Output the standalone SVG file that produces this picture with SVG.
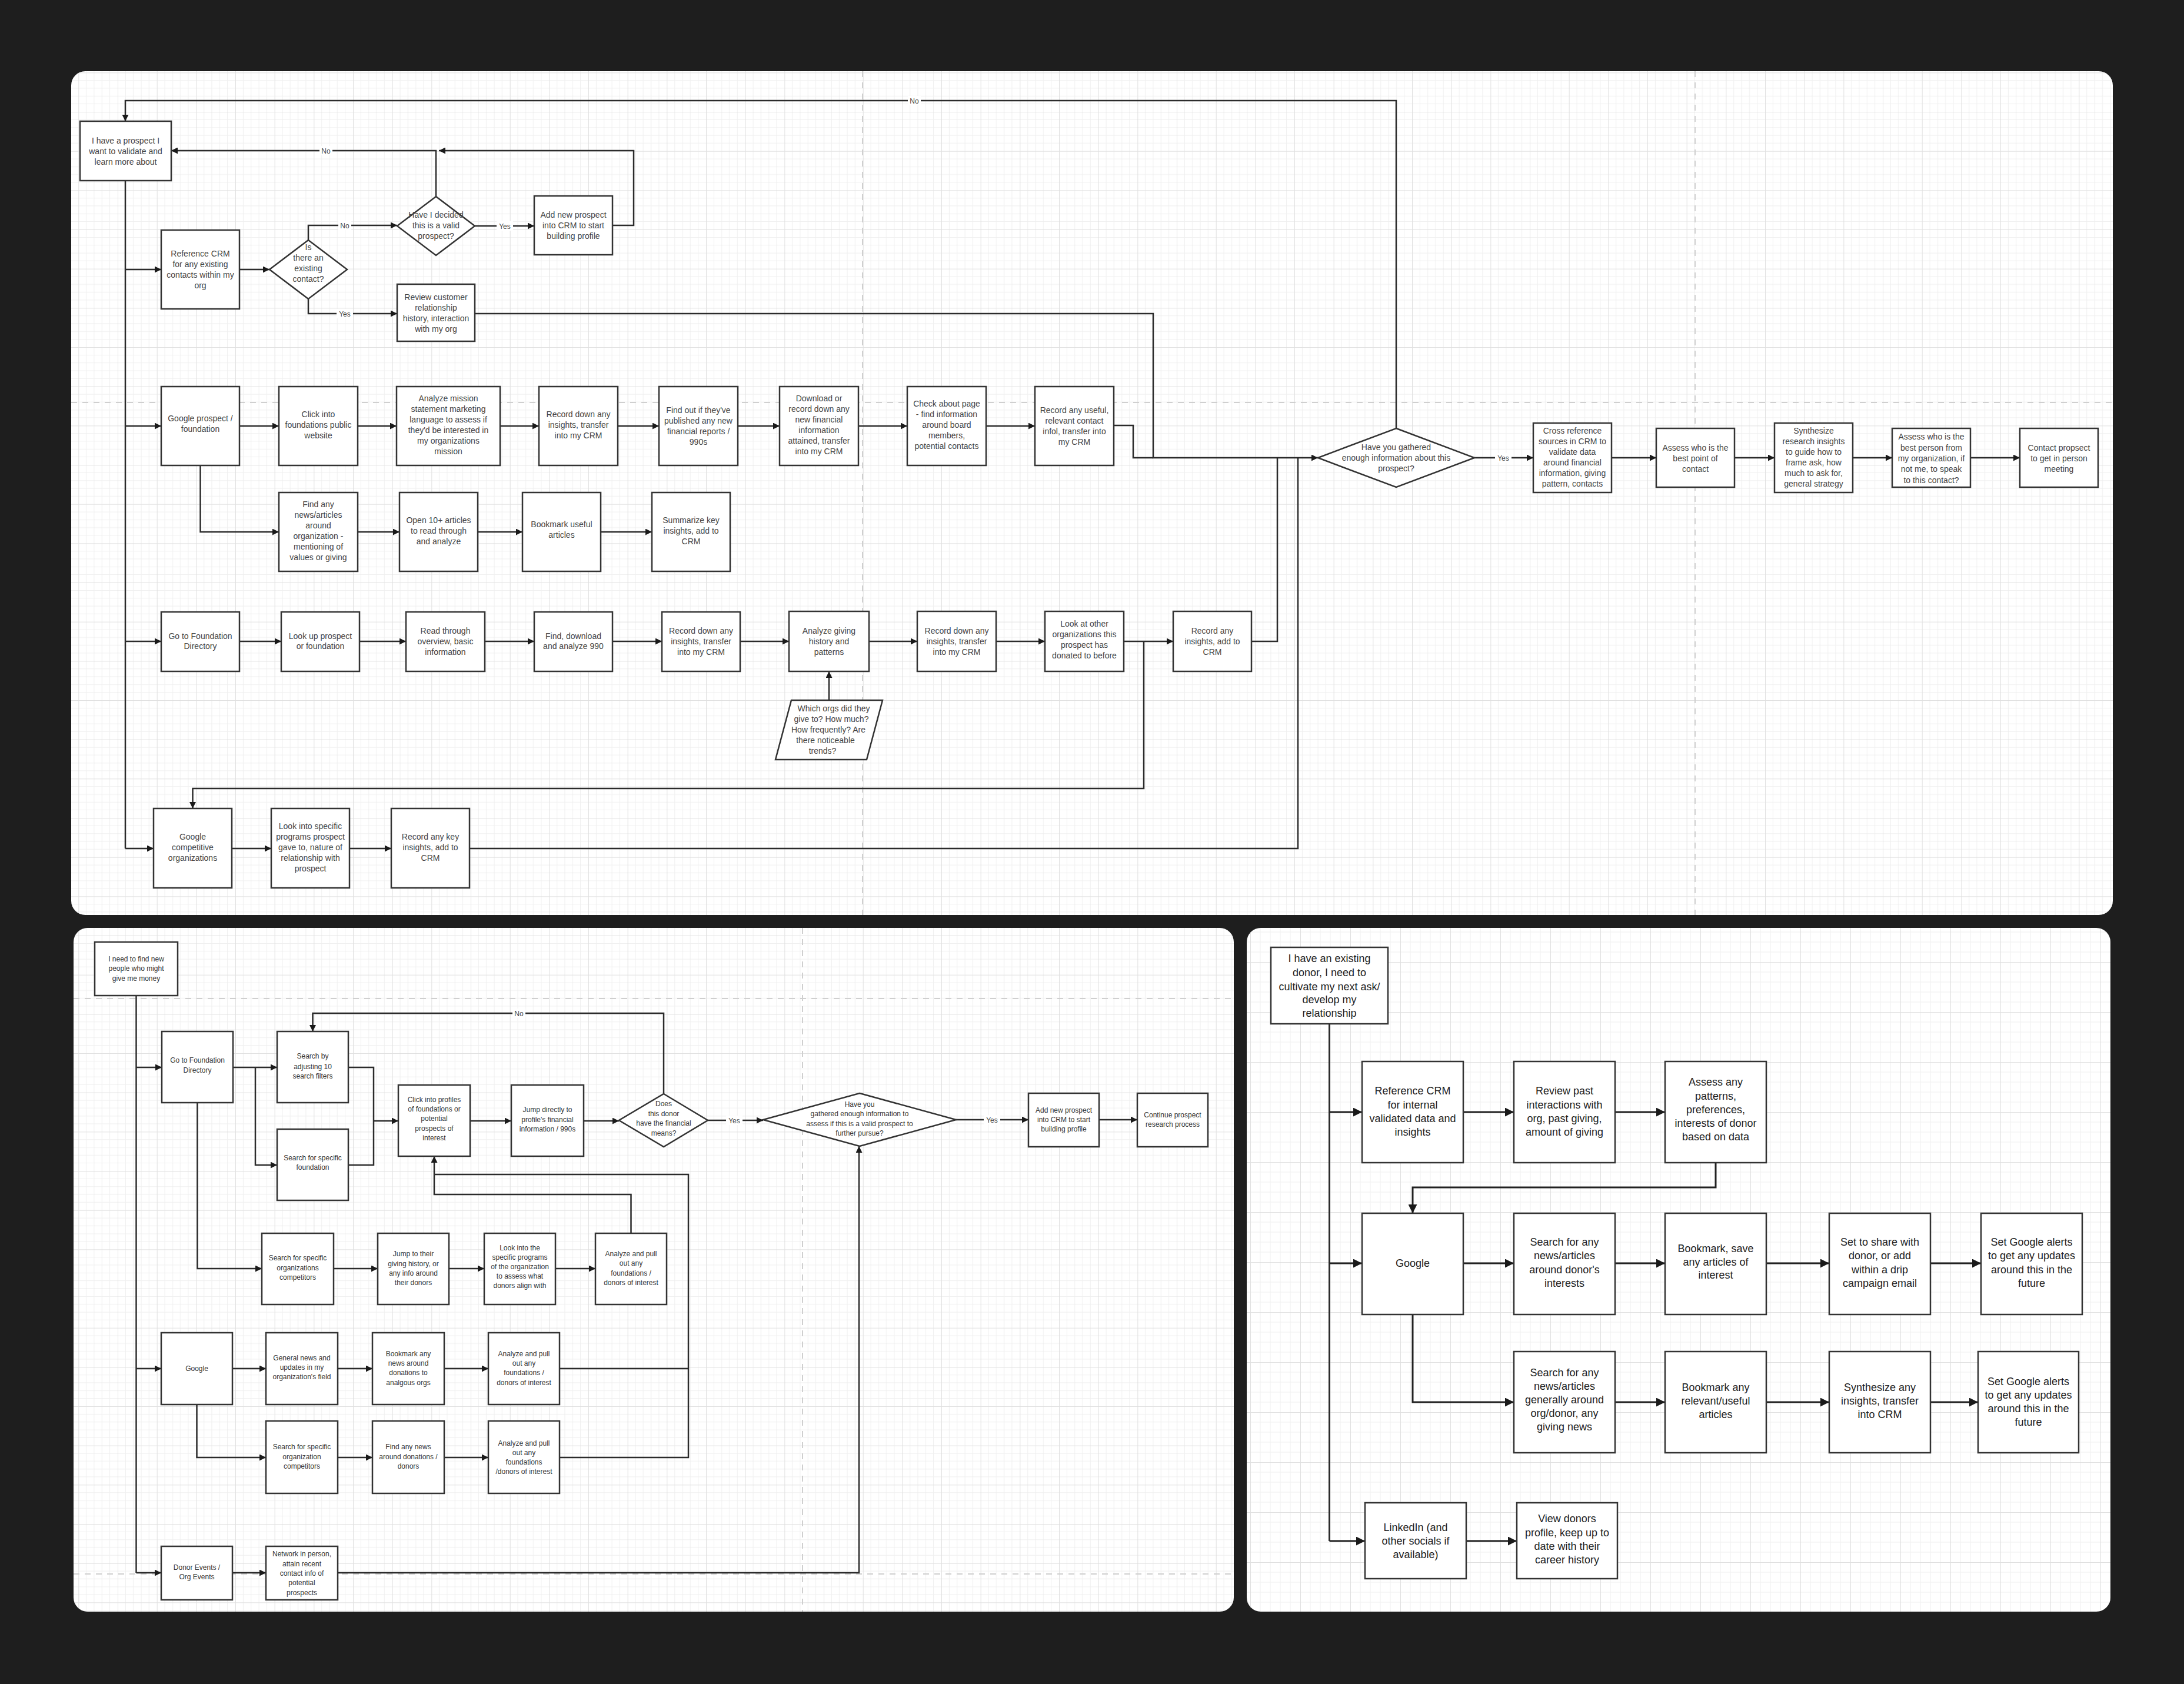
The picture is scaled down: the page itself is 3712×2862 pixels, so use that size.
<svg xmlns="http://www.w3.org/2000/svg" width="3712" height="2862" viewBox="0 0 3712 2862">
<defs>
<style>
.box{fill:#fff;stroke:#333;stroke-width:2.5}
.t{font-family:"Liberation Sans",Arial,sans-serif;font-size:14px;fill:#444;text-anchor:middle}
.tb{font-family:"Liberation Sans",Arial,sans-serif;font-size:12px;fill:#333;text-anchor:middle}
.tr{font-family:"Liberation Sans",Arial,sans-serif;font-size:18px;fill:#222;text-anchor:middle}
.lb{font-family:"Liberation Sans",Arial,sans-serif;font-size:12px;fill:#444;text-anchor:middle}
.c{fill:none;stroke:#2b2b2b;stroke-width:2.5}
.a{marker-end:url(#ah)}
.cr{fill:none;stroke:#222;stroke-width:3;marker-end:url(#ahL)}
.dash{fill:none;stroke:#cfcfcf;stroke-width:2;stroke-dasharray:10 9}
.lbg{fill:#fff}
</style>
<marker id="ah" viewBox="0 0 10 10" refX="10" refY="5" markerWidth="12" markerHeight="11" markerUnits="userSpaceOnUse" orient="auto"><path d="M0,0 L10,5 L0,10 z" fill="#1a1a1a"/></marker>
<marker id="ahL" viewBox="0 0 10 10" refX="10" refY="5" markerWidth="17" markerHeight="15" markerUnits="userSpaceOnUse" orient="auto"><path d="M0,0 L10,5 L0,10 z" fill="#1a1a1a"/></marker>
<pattern id="grid" width="66.667" height="66.667" patternUnits="userSpaceOnUse" x="0" y="56.67">
<path d="M13.333 0V66.667M26.667 0V66.667M40 0V66.667M53.333 0V66.667M0 13.333H66.667M0 26.667H66.667M0 40H66.667M0 53.333H66.667" stroke="#efefef" stroke-width="1" fill="none"/>
<path d="M0 0V66.667M0 0H66.667" stroke="#e0e0e0" stroke-width="2" fill="none"/>
</pattern>
<pattern id="gridR" width="85" height="85" patternUnits="userSpaceOnUse" x="0" y="20">
<path d="M17 0V85M34 0V85M51 0V85M68 0V85M0 17H85M0 34H85M0 51H85M0 68H85" stroke="#efefef" stroke-width="1" fill="none"/>
<path d="M0 0V85M0 0H85" stroke="#e0e0e0" stroke-width="2" fill="none"/>
</pattern>
</defs>
<rect x="0" y="0" width="3712" height="2862" fill="#1e1e1e"/>
<g id="panels">
<rect x="121" y="121" width="3470" height="1434" rx="24" fill="#fff"/>
<rect x="121" y="121" width="3470" height="1434" rx="24" fill="url(#grid)"/>
<rect x="125" y="1577" width="1972" height="1162" rx="24" fill="#fff"/>
<rect x="125" y="1577" width="1972" height="1162" rx="24" fill="url(#grid)"/>
<rect x="2119" y="1577" width="1468" height="1162" rx="24" fill="#fff"/>
<rect x="2119" y="1577" width="1468" height="1162" rx="24" fill="url(#gridR)"/>
</g>
<g id="guides">
<path class="dash" d="M1466,121 V1555 M2881,121 V1555 M121,684 H3591"/>
<path class="dash" d="M1364,1577 V2739 M125,1697 H2097 M125,2675 H2097"/>
</g>
<g id="connectors">
<!-- top panel -->
<path class="c" d="M213,307 V1442"/>
<path class="c a" d="M213,458 H274"/>
<path class="c a" d="M213,724 H274"/>
<path class="c a" d="M213,1090 H274"/>
<path class="c a" d="M213,1442 H261"/>
<path class="c a" d="M407,458 H458"/>
<path class="c a" d="M524,408 V383 H675"/>
<path class="c a" d="M524,507 V533 H675"/>
<path class="c a" d="M807,384 H908"/>
<path class="c a" d="M741,334 V256 H291"/>
<path class="c a" d="M1041,383 H1077 V256 H746"/>
<path class="c a" d="M807,533 H1960 V778 H2240"/>
<path class="c" d="M1893,723 H1926 V778 H1960"/>
<path class="c" d="M2127,1090 H2171 V778"/>
<path class="c" d="M798,1442 H2206 V778"/>
<path class="c a" d="M407,724 H474"/>
<path class="c a" d="M608,724 H674"/>
<path class="c a" d="M850,724 H916"/>
<path class="c a" d="M1050,724 H1120"/>
<path class="c a" d="M1254,724 H1325"/>
<path class="c a" d="M1459,724 H1542"/>
<path class="c a" d="M1676,724 H1759"/>
<path class="c a" d="M340.5,791 V904 H474"/>
<path class="c a" d="M608,904 H679"/>
<path class="c a" d="M812,904 H888"/>
<path class="c a" d="M1021,904 H1108"/>
<path class="c a" d="M407,1090 H478"/>
<path class="c a" d="M611,1090 H690"/>
<path class="c a" d="M824,1090 H908"/>
<path class="c a" d="M1041,1090 H1125"/>
<path class="c a" d="M1258,1090 H1341"/>
<path class="c a" d="M1477,1090 H1559"/>
<path class="c a" d="M1693,1090 H1776"/>
<path class="c a" d="M1910,1090 H1994"/>
<path class="c a" d="M1944,1090 V1340 H327.5 V1374"/>
<path class="c a" d="M1409,1190 V1141"/>
<path class="c a" d="M394,1442 H461"/>
<path class="c a" d="M594,1442 H665"/>
<path class="c a" d="M2373,728 V171 H213 V206"/>
<path class="c a" d="M2506,778 H2606"/>
<path class="c a" d="M2739,778 H2815"/>
<path class="c a" d="M2948,778 H3016"/>
<path class="c a" d="M3149,778 H3216"/>
<path class="c a" d="M3349,778 H3433"/>
<!-- bottom-left panel -->
<path class="c" d="M231.5,1692 V2673"/>
<path class="c a" d="M231.5,1814 H275"/>
<path class="c a" d="M231.5,2326 H274"/>
<path class="c a" d="M231.5,2673 H274"/>
<path class="c a" d="M396,1814 H471"/>
<path class="c a" d="M434,1814 V1980 H471"/>
<path class="c" d="M592,1814 H635 V1980 H592"/>
<path class="c a" d="M635,1905 H677"/>
<path class="c a" d="M799,1905 H869"/>
<path class="c a" d="M992,1905 H1052"/>
<path class="c a" d="M1128,1859 V1722 H531.5 V1753"/>
<path class="c a" d="M1203,1904 H1297"/>
<path class="c a" d="M1625,1903 H1748"/>
<path class="c a" d="M1868,1903 H1933"/>
<path class="c a" d="M335.5,1874 V2156 H445"/>
<path class="c a" d="M567,2156 H642"/>
<path class="c a" d="M763,2156 H823"/>
<path class="c a" d="M944,2156 H1012"/>
<path class="c a" d="M1072.5,2096 V2030 H738 V1965"/>
<path class="c" d="M951,2326 H1170"/>
<path class="c" d="M951,2477 H1170 V1996 H738"/>
<path class="c a" d="M395,2326 H452"/>
<path class="c a" d="M574,2326 H633"/>
<path class="c a" d="M755,2326 H830"/>
<path class="c a" d="M334.5,2387 V2477 H452"/>
<path class="c a" d="M574,2477 H633"/>
<path class="c a" d="M755,2477 H830"/>
<path class="c a" d="M395,2673 H452"/>
<path class="c a" d="M574,2673 H1460 V1948"/>
<!-- bottom-right panel -->
<path class="c" style="stroke-width:3" d="M2259.5,1740 V2619"/>
<path class="cr" d="M2259.5,1890 H2315"/>
<path class="cr" d="M2259.5,2147 H2315"/>
<path class="cr" d="M2259.5,2619 H2320"/>
<path class="cr" d="M2487,1890 H2573"/>
<path class="cr" d="M2745,1890 H2830"/>
<path class="cr" d="M2916,1976 V2018 H2401 V2062"/>
<path class="cr" d="M2487,2147 H2573"/>
<path class="cr" d="M2745,2147 H2830"/>
<path class="cr" d="M3002,2147 H3109"/>
<path class="cr" d="M3281,2147 H3367"/>
<path class="cr" d="M2401,2234 V2383 H2573"/>
<path class="cr" d="M2745,2383 H2830"/>
<path class="cr" d="M3002,2383 H3109"/>
<path class="cr" d="M3281,2383 H3362"/>
<path class="cr" d="M2492,2619 H2578"/>
<!-- labels -->
<rect class="lbg" x="575" y="375" width="22" height="16"/><text class="lb" x="586" y="387.5">No</text>
<rect class="lbg" x="572" y="525" width="28" height="16"/><text class="lb" x="586" y="537.5">Yes</text>
<rect class="lbg" x="844" y="376" width="28" height="16"/><text class="lb" x="858" y="388.5">Yes</text>
<rect class="lbg" x="543" y="248" width="22" height="16"/><text class="lb" x="554" y="260.5">No</text>
<rect class="lbg" x="1543" y="163" width="22" height="16"/><text class="lb" x="1554" y="175.5">No</text>
<rect class="lbg" x="2541" y="770" width="28" height="16"/><text class="lb" x="2555" y="782.5">Yes</text>
<rect class="lbg" x="871" y="1714" width="22" height="16"/><text class="lb" x="882" y="1726.5">No</text>
<rect class="lbg" x="1234" y="1896" width="28" height="16"/><text class="lb" x="1248" y="1908.5">Yes</text>
<rect class="lbg" x="1672" y="1895" width="28" height="16"/><text class="lb" x="1686" y="1907.5">Yes</text>
</g>
<!-- ===== TOP PANEL NODES ===== -->
<g id="n-prospect"><rect class="box" x="136" y="206" width="155" height="101"/><text class="t"><tspan x="213.5" y="243.5">I have a prospect I</tspan><tspan x="213.5" y="261.5">want to validate and</tspan><tspan x="213.5" y="279.5">learn more about</tspan></text></g>
<g id="n-refcrm"><rect class="box" x="274" y="391" width="133" height="134"/><text class="t"><tspan x="340.5" y="436">Reference CRM</tspan><tspan x="340.5" y="454">for any existing</tspan><tspan x="340.5" y="472">contacts within my</tspan><tspan x="340.5" y="490">org</tspan></text></g>
<g id="n-existing"><polygon class="box" points="524,408 590,458 524,508 458,458"/><text class="t"><tspan x="524" y="425">Is</tspan><tspan x="524" y="443">there an</tspan><tspan x="524" y="461">existing</tspan><tspan x="524" y="479">contact?</tspan></text></g>
<g id="n-decided"><polygon class="box" points="741,334 807,384 741,434 675,384"/><text class="t"><tspan x="741" y="370">Have I decided</tspan><tspan x="741" y="388">this is a valid</tspan><tspan x="741" y="406">prospect?</tspan></text></g>
<g id="n-addnew"><rect class="box" x="908" y="333" width="133" height="100"/><text class="t"><tspan x="974.5" y="370">Add new prospect</tspan><tspan x="974.5" y="388">into CRM to start</tspan><tspan x="974.5" y="406">building profile</tspan></text></g>
<g id="n-review"><rect class="box" x="675" y="483" width="132" height="97"/><text class="t"><tspan x="741" y="509.5">Review customer</tspan><tspan x="741" y="527.5">relationship</tspan><tspan x="741" y="545.5">history, interaction</tspan><tspan x="741" y="563.5">with my org</tspan></text></g>
<g id="n-gprospect"><rect class="box" x="274" y="657" width="133" height="134"/><text class="t"><tspan x="340.5" y="716">Google prospect /</tspan><tspan x="340.5" y="734">foundation</tspan></text></g>
<g id="n-clickinto"><rect class="box" x="474" y="657" width="134" height="134"/><text class="t"><tspan x="541" y="709">Click into</tspan><tspan x="541" y="727">foundations public</tspan><tspan x="541" y="745">website</tspan></text></g>
<g id="n-mission"><rect class="box" x="674" y="657" width="176" height="134"/><text class="t"><tspan x="762" y="682">Analyze mission</tspan><tspan x="762" y="700">statement  marketing</tspan><tspan x="762" y="718">language to assess if</tspan><tspan x="762" y="736">they'd be interested in</tspan><tspan x="762" y="754">my organizations</tspan><tspan x="762" y="772">mission</tspan></text></g>
<g id="n-record1"><rect class="box" x="916" y="657" width="134" height="134"/><text class="t"><tspan x="983" y="709">Record down any</tspan><tspan x="983" y="727">insights, transfer</tspan><tspan x="983" y="745">into my CRM</tspan></text></g>
<g id="n-findout"><rect class="box" x="1120" y="657" width="134" height="134"/><text class="t"><tspan x="1187" y="702">Find out if they've</tspan><tspan x="1187" y="720">published any new</tspan><tspan x="1187" y="738">financial reports /</tspan><tspan x="1187" y="756">990s</tspan></text></g>
<g id="n-download"><rect class="box" x="1325" y="657" width="134" height="134"/><text class="t"><tspan x="1392" y="682">Download or</tspan><tspan x="1392" y="700">record down any</tspan><tspan x="1392" y="718">new financial</tspan><tspan x="1392" y="736">information</tspan><tspan x="1392" y="754">attained, transfer</tspan><tspan x="1392" y="772">into my CRM</tspan></text></g>
<g id="n-about"><rect class="box" x="1542" y="657" width="134" height="134"/><text class="t"><tspan x="1609" y="691">Check about page</tspan><tspan x="1609" y="709">- find information</tspan><tspan x="1609" y="727">around board</tspan><tspan x="1609" y="745">members,</tspan><tspan x="1609" y="763">potential contacts</tspan></text></g>
<g id="n-useful"><rect class="box" x="1759" y="657" width="134" height="134"/><text class="t"><tspan x="1826" y="702">Record any useful,</tspan><tspan x="1826" y="720">relevant contact</tspan><tspan x="1826" y="738">infol, transfer into</tspan><tspan x="1826" y="756">my CRM</tspan></text></g>
<g id="n-findnews"><rect class="box" x="474" y="837" width="134" height="134"/><text class="t"><tspan x="541" y="862">Find any</tspan><tspan x="541" y="880">news/articles</tspan><tspan x="541" y="898">around</tspan><tspan x="541" y="916">organization -</tspan><tspan x="541" y="934">mentioning of</tspan><tspan x="541" y="952">values or giving</tspan></text></g>
<g id="n-open10"><rect class="box" x="679" y="837" width="133" height="134"/><text class="t"><tspan x="745.5" y="889">Open 10+ articles</tspan><tspan x="745.5" y="907">to read through</tspan><tspan x="745.5" y="925">and analyze</tspan></text></g>
<g id="n-bookmark"><rect class="box" x="888" y="837" width="133" height="134"/><text class="t"><tspan x="954.5" y="896">Bookmark useful</tspan><tspan x="954.5" y="914">articles</tspan></text></g>
<g id="n-summarize"><rect class="box" x="1108" y="837" width="133" height="134"/><text class="t"><tspan x="1174.5" y="889">Summarize key</tspan><tspan x="1174.5" y="907">insights, add to</tspan><tspan x="1174.5" y="925">CRM</tspan></text></g>
<g id="n-gofd"><rect class="box" x="274" y="1040" width="133" height="101"/><text class="t"><tspan x="340.5" y="1086">Go to Foundation</tspan><tspan x="340.5" y="1103">Directory</tspan></text></g>
<g id="n-lookup"><rect class="box" x="478" y="1040" width="133" height="101"/><text class="t"><tspan x="544.5" y="1086">Look up prospect</tspan><tspan x="544.5" y="1103">or foundation</tspan></text></g>
<g id="n-readthrough"><rect class="box" x="690" y="1040" width="134" height="101"/><text class="t"><tspan x="757" y="1077">Read through</tspan><tspan x="757" y="1095">overview, basic</tspan><tspan x="757" y="1113">information</tspan></text></g>
<g id="n-find990"><rect class="box" x="908" y="1040" width="133" height="101"/><text class="t"><tspan x="974.5" y="1086">Find, download</tspan><tspan x="974.5" y="1103">and analyze 990</tspan></text></g>
<g id="n-record2"><rect class="box" x="1125" y="1040" width="133" height="101"/><text class="t"><tspan x="1191.5" y="1077">Record down any</tspan><tspan x="1191.5" y="1095">insights, transfer</tspan><tspan x="1191.5" y="1113">into my CRM</tspan></text></g>
<g id="n-giving"><rect class="box" x="1341" y="1039" width="136" height="102"/><text class="t"><tspan x="1409" y="1077">Analyze giving</tspan><tspan x="1409" y="1095">history and</tspan><tspan x="1409" y="1113">patterns</tspan></text></g>
<g id="n-record3"><rect class="box" x="1559" y="1039" width="134" height="102"/><text class="t"><tspan x="1626" y="1077">Record down any</tspan><tspan x="1626" y="1095">insights, transfer</tspan><tspan x="1626" y="1113">into my CRM</tspan></text></g>
<g id="n-lookother"><rect class="box" x="1776" y="1039" width="134" height="102"/><text class="t"><tspan x="1843" y="1065">Look at other</tspan><tspan x="1843" y="1083">organizations this</tspan><tspan x="1843" y="1101">prospect has</tspan><tspan x="1843" y="1119">donated to before</tspan></text></g>
<g id="n-recordany"><rect class="box" x="1994" y="1039" width="133" height="102"/><text class="t"><tspan x="2060.5" y="1077">Record any</tspan><tspan x="2060.5" y="1095">insights, add to</tspan><tspan x="2060.5" y="1113">CRM</tspan></text></g>
<g id="n-which"><polygon class="box" points="1345,1190 1500,1190 1473,1291 1318,1291"/><text class="t"><tspan x="1417" y="1209">Which orgs did they</tspan><tspan x="1413" y="1227">give to? How much?</tspan><tspan x="1408" y="1245">How frequently? Are</tspan><tspan x="1403" y="1263">there noticeable</tspan><tspan x="1398" y="1281">trends?</tspan></text></g>
<g id="n-gcomp"><rect class="box" x="261" y="1374" width="133" height="135"/><text class="t"><tspan x="327.5" y="1427">Google</tspan><tspan x="327.5" y="1445">competitive</tspan><tspan x="327.5" y="1463">organizations</tspan></text></g>
<g id="n-programs"><rect class="box" x="461" y="1374" width="133" height="135"/><text class="t"><tspan x="527.5" y="1409">Look into specific</tspan><tspan x="527.5" y="1427">programs prospect</tspan><tspan x="527.5" y="1445">gave to, nature of</tspan><tspan x="527.5" y="1463">relationship with</tspan><tspan x="527.5" y="1481">prospect</tspan></text></g>
<g id="n-recordkey"><rect class="box" x="665" y="1374" width="133" height="135"/><text class="t"><tspan x="731.5" y="1427">Record any key</tspan><tspan x="731.5" y="1445">insights, add to</tspan><tspan x="731.5" y="1463">CRM</tspan></text></g>
<g id="n-gathered"><polygon class="box" points="2373,728 2506,778 2373,828 2240,778"/><text class="t"><tspan x="2373" y="765">Have you gathered</tspan><tspan x="2373" y="783">enough information about this</tspan><tspan x="2373" y="801">prospect?</tspan></text></g>
<g id="n-crossref"><rect class="box" x="2606" y="719" width="133" height="118"/><text class="t"><tspan x="2672.5" y="737">Cross reference</tspan><tspan x="2672.5" y="755">sources in CRM to</tspan><tspan x="2672.5" y="773">validate data</tspan><tspan x="2672.5" y="791">around financial</tspan><tspan x="2672.5" y="809">information, giving</tspan><tspan x="2672.5" y="827">pattern, contacts</tspan></text></g>
<g id="n-assessbest"><rect class="box" x="2815" y="728" width="133" height="100"/><text class="t"><tspan x="2881.5" y="766">Assess who is the</tspan><tspan x="2881.5" y="784">best point of</tspan><tspan x="2881.5" y="802">contact</tspan></text></g>
<g id="n-synth"><rect class="box" x="3016" y="719" width="133" height="118"/><text class="t"><tspan x="3082.5" y="737">Synthesize</tspan><tspan x="3082.5" y="755">research insights</tspan><tspan x="3082.5" y="773">to guide how to</tspan><tspan x="3082.5" y="791">frame ask, how</tspan><tspan x="3082.5" y="809">much to ask for,</tspan><tspan x="3082.5" y="827">general strategy</tspan></text></g>
<g id="n-assessperson"><rect class="box" x="3216" y="728" width="133" height="100"/><text class="t"><tspan x="3282.5" y="747">Assess who is the</tspan><tspan x="3282.5" y="766">best person from</tspan><tspan x="3282.5" y="784">my organization, if</tspan><tspan x="3282.5" y="802">not me, to speak</tspan><tspan x="3282.5" y="821">to this contact?</tspan></text></g>
<g id="n-contact"><rect class="box" x="3433" y="728" width="133" height="100"/><text class="t"><tspan x="3499.5" y="766">Contact propsect</tspan><tspan x="3499.5" y="784">to get in person</tspan><tspan x="3499.5" y="802">meeting</tspan></text></g>
<!-- ===== BOTTOM-LEFT PANEL NODES ===== -->
<g id="b-needfind"><rect class="box" x="161" y="1601" width="141" height="91"/><text class="tb"><tspan x="231.5" y="1634">I need to find new</tspan><tspan x="231.5" y="1650">people who might</tspan><tspan x="231.5" y="1667">give me money</tspan></text></g>
<g id="b-gofd"><rect class="box" x="275" y="1753" width="121" height="121"/><text class="tb"><tspan x="335.5" y="1806">Go to Foundation</tspan><tspan x="335.5" y="1823">Directory</tspan></text></g>
<g id="b-searchadj"><rect class="box" x="471" y="1753" width="121" height="121"/><text class="tb"><tspan x="531.5" y="1799">Search by</tspan><tspan x="531.5" y="1817">adjusting 10</tspan><tspan x="531.5" y="1833">search filters</tspan></text></g>
<g id="b-searchfound"><rect class="box" x="471" y="1919" width="121" height="121"/><text class="tb"><tspan x="531.5" y="1972">Search for specific</tspan><tspan x="531.5" y="1988">foundation</tspan></text></g>
<g id="b-clickprof"><rect class="box" x="677" y="1844" width="122" height="121"/><text class="tb"><tspan x="738" y="1873">Click into profiles</tspan><tspan x="738" y="1889">of foundations or</tspan><tspan x="738" y="1905">potential</tspan><tspan x="738" y="1922">prospects of</tspan><tspan x="738" y="1938">interest</tspan></text></g>
<g id="b-jumpdir"><rect class="box" x="869" y="1844" width="123" height="121"/><text class="tb"><tspan x="930.5" y="1890">Jump directly to</tspan><tspan x="930.5" y="1907">profile's financial</tspan><tspan x="930.5" y="1923">information / 990s</tspan></text></g>
<g id="b-means"><polygon class="box" points="1128,1859 1203,1904 1128,1949 1052,1904"/><text class="tb"><tspan x="1128" y="1880">Does</tspan><tspan x="1128" y="1897">this donor</tspan><tspan x="1128" y="1913">have the financial</tspan><tspan x="1128" y="1930">means?</tspan></text></g>
<g id="b-enough"><polygon class="box" points="1461,1858 1625,1903 1461,1948 1297,1903"/><text class="tb"><tspan x="1461" y="1881">Have you</tspan><tspan x="1461" y="1897">gathered enough information to</tspan><tspan x="1461" y="1914">assess if this is a valid prospect to</tspan><tspan x="1461" y="1930">further pursue?</tspan></text></g>
<g id="b-addnew"><rect class="box" x="1748" y="1858" width="120" height="91"/><text class="tb"><tspan x="1808" y="1891">Add new prospect</tspan><tspan x="1808" y="1907">into CRM to start</tspan><tspan x="1808" y="1923">building profile</tspan></text></g>
<g id="b-continue"><rect class="box" x="1933" y="1858" width="120" height="91"/><text class="tb"><tspan x="1993" y="1899">Continue prospect</tspan><tspan x="1993" y="1915">research process</tspan></text></g>
<g id="b-searchorgs"><rect class="box" x="445" y="2096" width="122" height="121"/><text class="tb"><tspan x="506" y="2142">Search for specific</tspan><tspan x="506" y="2159">organizations</tspan><tspan x="506" y="2175">competitors</tspan></text></g>
<g id="b-jumpgiving"><rect class="box" x="642" y="2096" width="121" height="121"/><text class="tb"><tspan x="702.5" y="2135">Jump to their</tspan><tspan x="702.5" y="2152">giving history, or</tspan><tspan x="702.5" y="2168">any info around</tspan><tspan x="702.5" y="2184">their donors</tspan></text></g>
<g id="b-lookspec"><rect class="box" x="823" y="2096" width="121" height="121"/><text class="tb"><tspan x="883.5" y="2125">Look into the</tspan><tspan x="883.5" y="2141">specific programs</tspan><tspan x="883.5" y="2157">of the organization</tspan><tspan x="883.5" y="2173">to assess what</tspan><tspan x="883.5" y="2189">donors align with</tspan></text></g>
<g id="b-pull1"><rect class="box" x="1012" y="2096" width="121" height="121"/><text class="tb"><tspan x="1072.5" y="2135">Analyze and pull</tspan><tspan x="1072.5" y="2151">out any</tspan><tspan x="1072.5" y="2168">foundations /</tspan><tspan x="1072.5" y="2184">donors of interest</tspan></text></g>
<g id="b-google"><rect class="box" x="274" y="2265" width="121" height="122"/><text class="tb"><tspan x="334.5" y="2330">Google</tspan></text></g>
<g id="b-general"><rect class="box" x="452" y="2265" width="122" height="122"/><text class="tb"><tspan x="513" y="2312">General news and</tspan><tspan x="513" y="2328">updates in my</tspan><tspan x="513" y="2344">organization's field</tspan></text></g>
<g id="b-bmnews"><rect class="box" x="633" y="2265" width="122" height="122"/><text class="tb"><tspan x="694" y="2305">Bookmark any</tspan><tspan x="694" y="2321">news around</tspan><tspan x="694" y="2337">donations to</tspan><tspan x="694" y="2354">analgous orgs</tspan></text></g>
<g id="b-pull2"><rect class="box" x="830" y="2265" width="121" height="122"/><text class="tb"><tspan x="890.5" y="2305">Analyze and pull</tspan><tspan x="890.5" y="2321">out any</tspan><tspan x="890.5" y="2337">foundations /</tspan><tspan x="890.5" y="2354">donors of interest</tspan></text></g>
<g id="b-searchorg2"><rect class="box" x="452" y="2415" width="122" height="123"/><text class="tb"><tspan x="513" y="2463">Search for specific</tspan><tspan x="513" y="2480">organization</tspan><tspan x="513" y="2496">competitors</tspan></text></g>
<g id="b-findnews"><rect class="box" x="633" y="2415" width="122" height="123"/><text class="tb"><tspan x="694" y="2463">Find any news</tspan><tspan x="694" y="2480">around donations /</tspan><tspan x="694" y="2496">donors</tspan></text></g>
<g id="b-pull3"><rect class="box" x="830" y="2415" width="121" height="123"/><text class="tb"><tspan x="890.5" y="2457">Analyze and pull</tspan><tspan x="890.5" y="2473">out any</tspan><tspan x="890.5" y="2489">foundations</tspan><tspan x="890.5" y="2505">/donors of interest</tspan></text></g>
<g id="b-events"><rect class="box" x="274" y="2628" width="121" height="91"/><text class="tb"><tspan x="334.5" y="2668">Donor Events /</tspan><tspan x="334.5" y="2684">Org Events</tspan></text></g>
<g id="b-network"><rect class="box" x="452" y="2628" width="122" height="91"/><text class="tb"><tspan x="513" y="2645">Network in person,</tspan><tspan x="513" y="2662">attain recent</tspan><tspan x="513" y="2678">contact info of</tspan><tspan x="513" y="2694">potential</tspan><tspan x="513" y="2711">prospects</tspan></text></g>
<!-- ===== BOTTOM-RIGHT PANEL NODES ===== -->
<g id="r-existing"><rect class="box" x="2160" y="1610" width="199" height="130"/><text class="tr"><tspan x="2259.5" y="1635">I have an existing</tspan><tspan x="2259.5" y="1659">donor, I need to</tspan><tspan x="2259.5" y="1683">cultivate my next ask/</tspan><tspan x="2259.5" y="1705">develop my</tspan><tspan x="2259.5" y="1728">relationship</tspan></text></g>
<g id="r-refcrm"><rect class="box" x="2315" y="1804" width="172" height="172"/><text class="tr"><tspan x="2401" y="1860">Reference CRM</tspan><tspan x="2401" y="1884">for internal</tspan><tspan x="2401" y="1907">validated data and</tspan><tspan x="2401" y="1930">insights</tspan></text></g>
<g id="r-reviewpast"><rect class="box" x="2573" y="1804" width="172" height="172"/><text class="tr"><tspan x="2659" y="1860">Review past</tspan><tspan x="2659" y="1884">interactions with</tspan><tspan x="2659" y="1907">org, past giving,</tspan><tspan x="2659" y="1930">amount of giving</tspan></text></g>
<g id="r-assess"><rect class="box" x="2830" y="1804" width="172" height="172"/><text class="tr"><tspan x="2916" y="1845">Assess any</tspan><tspan x="2916" y="1869">patterns,</tspan><tspan x="2916" y="1892">preferences,</tspan><tspan x="2916" y="1915">interests of donor</tspan><tspan x="2916" y="1938">based on data</tspan></text></g>
<g id="r-google"><rect class="box" x="2315" y="2062" width="172" height="172"/><text class="tr"><tspan x="2401" y="2153">Google</tspan></text></g>
<g id="r-searchdonor"><rect class="box" x="2573" y="2062" width="172" height="172"/><text class="tr"><tspan x="2659" y="2117">Search for any</tspan><tspan x="2659" y="2140">news/articles</tspan><tspan x="2659" y="2164">around donor's</tspan><tspan x="2659" y="2187">interests</tspan></text></g>
<g id="r-bmsave"><rect class="box" x="2830" y="2062" width="172" height="172"/><text class="tr"><tspan x="2916" y="2128">Bookmark, save</tspan><tspan x="2916" y="2151">any articles of</tspan><tspan x="2916" y="2173">interest</tspan></text></g>
<g id="r-share"><rect class="box" x="3109" y="2062" width="172" height="172"/><text class="tr"><tspan x="3195" y="2117">Set to share with</tspan><tspan x="3195" y="2140">donor, or add</tspan><tspan x="3195" y="2164">within a drip</tspan><tspan x="3195" y="2187">campaign email</tspan></text></g>
<g id="r-alerts1"><rect class="box" x="3367" y="2062" width="172" height="172"/><text class="tr"><tspan x="3453" y="2117">Set Google alerts</tspan><tspan x="3453" y="2140">to get any updates</tspan><tspan x="3453" y="2164">around this in the</tspan><tspan x="3453" y="2187">future</tspan></text></g>
<g id="r-searchgen"><rect class="box" x="2573" y="2297" width="172" height="172"/><text class="tr"><tspan x="2659" y="2339">Search for any</tspan><tspan x="2659" y="2362">news/articles</tspan><tspan x="2659" y="2385">generally around</tspan><tspan x="2659" y="2408">org/donor, any</tspan><tspan x="2659" y="2431">giving news</tspan></text></g>
<g id="r-bmrel"><rect class="box" x="2830" y="2297" width="172" height="172"/><text class="tr"><tspan x="2916" y="2364">Bookmark any</tspan><tspan x="2916" y="2387">relevant/useful</tspan><tspan x="2916" y="2410">articles</tspan></text></g>
<g id="r-synth"><rect class="box" x="3109" y="2297" width="172" height="172"/><text class="tr"><tspan x="3195" y="2364">Synthesize any</tspan><tspan x="3195" y="2387">insights, transfer</tspan><tspan x="3195" y="2410">into CRM</tspan></text></g>
<g id="r-alerts2"><rect class="box" x="3362" y="2297" width="171" height="172"/><text class="tr"><tspan x="3447.5" y="2354">Set Google alerts</tspan><tspan x="3447.5" y="2377">to get any updates</tspan><tspan x="3447.5" y="2400">around this in the</tspan><tspan x="3447.5" y="2423">future</tspan></text></g>
<g id="r-linkedin"><rect class="box" x="2320" y="2554" width="172" height="129"/><text class="tr"><tspan x="2406" y="2602">LinkedIn (and</tspan><tspan x="2406" y="2625">other socials if</tspan><tspan x="2406" y="2648">available)</tspan></text></g>
<g id="r-view"><rect class="box" x="2578" y="2554" width="171" height="129"/><text class="tr"><tspan x="2663.5" y="2587">View donors</tspan><tspan x="2663.5" y="2611">profile, keep up to</tspan><tspan x="2663.5" y="2634">date with their</tspan><tspan x="2663.5" y="2657">career history</tspan></text></g>
</svg>
